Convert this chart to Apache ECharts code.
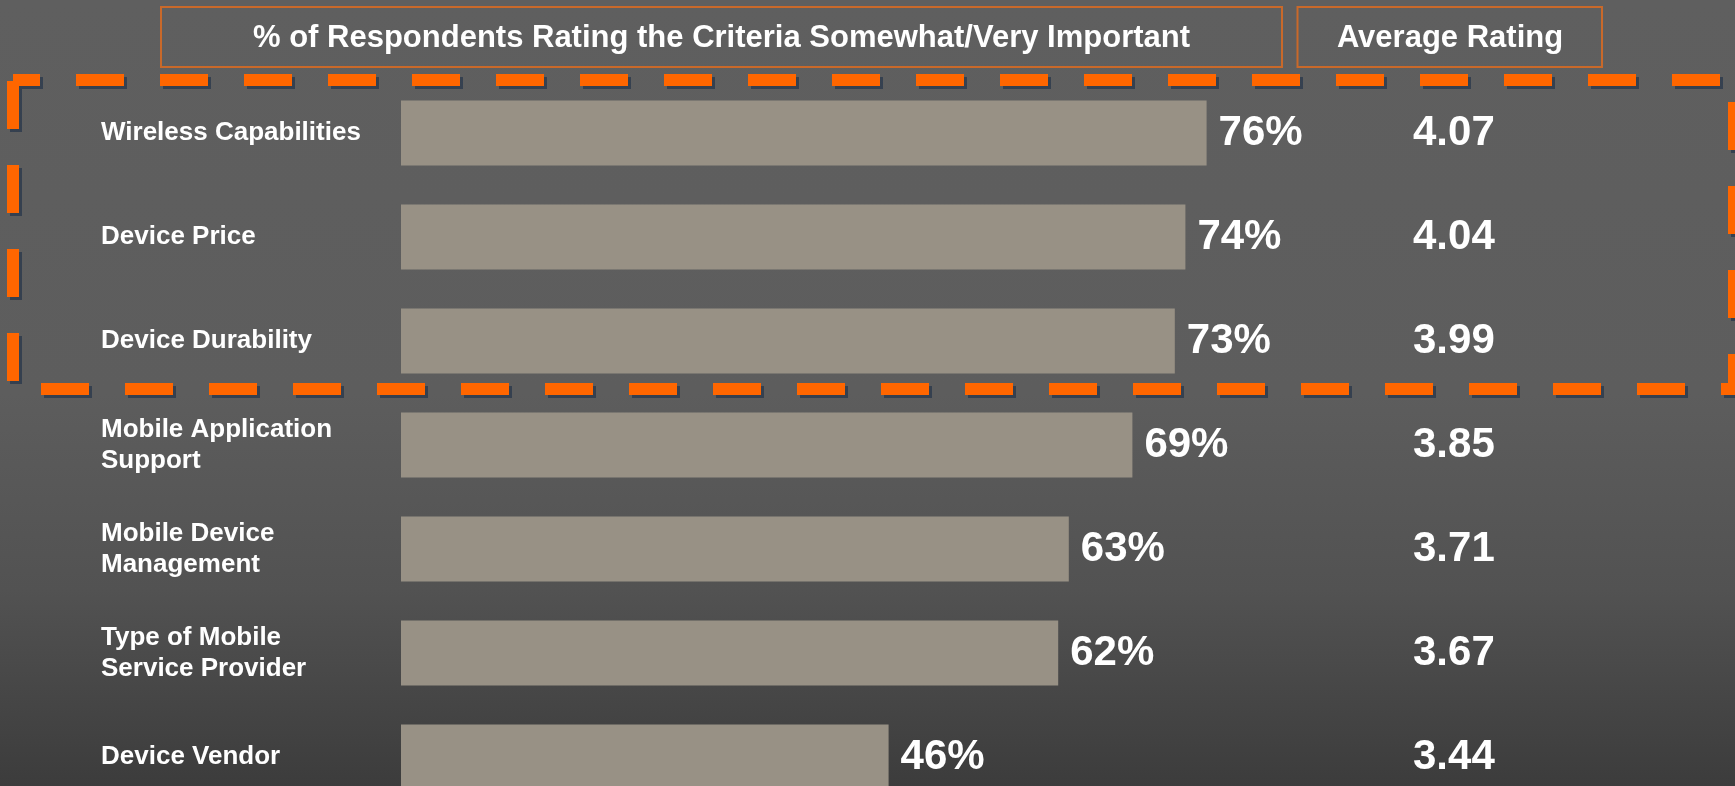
<!DOCTYPE html>
<html>
<head>
<meta charset="utf-8">
<title>Criteria rating</title>
<script src="https://cdn.jsdelivr.net/npm/echarts@6/dist/echarts.min.js"></script>
<style>
  html, body { margin: 0; padding: 0; }
  .chartHeight { width: 1735px; height: 786px; }
</style>
</head>
<body>
<div class="chartHeight" id="echarts"></div>
<script>
// data
var categories = [
  "Wireless Capabilities",
  "Device Price",
  "Device Durability",
  "Mobile Application\nSupport",
  "Mobile Device\nManagement",
  "Type of Mobile\nService Provider",
  "Device Vendor"
];
var pctValues = [76, 74, 73, 69, 63, 62, 46];
var avgRatings = [4.07, 4.04, 3.99, 3.85, 3.71, 3.67, 3.44];
var headerPct = "% of Respondents Rating the Criteria Somewhat/Very Important";
var headerAvg = "Average Rating";

var FONT = "'Liberation Sans', Arial, sans-serif";
var ORANGE = "#ff6600";

var myChart = echarts.init(document.getElementById("echarts"));

myChart.setOption({
  animation: false,
  backgroundColor: {
    type: "linear",
    x: 0, y: 0, x2: 0, y2: 1,
    colorStops: [
      { offset: 0, color: "#5f5f5f" },
      { offset: 0.5, color: "#5d5d5d" },
      { offset: 0.75, color: "#525252" },
      { offset: 1, color: "#3c3c3c" }
    ]
  },
  grid: {
    left: 401,
    top: 81,
    width: 1060,
    height: 728,
    containLabel: false,
    outerBoundsMode: "none"
  },
  xAxis: {
    type: "value",
    min: 0,
    max: 100,
    show: false
  },
  yAxis: [
    {
      type: "category",
      data: categories,
      inverse: true,
      axisLine: { show: false },
      axisTick: { show: false },
      splitLine: { show: false },
      axisLabel: {
        align: "left",
        margin: 300,
        color: "#ffffff",
        fontFamily: FONT,
        fontWeight: "bold",
        fontSize: 26,
        lineHeight: 31
      }
    },
    {
      type: "category",
      position: "right",
      offset: -56,
      data: avgRatings.map(function (v) { return v.toFixed(2); }),
      inverse: true,
      axisLine: { show: false },
      axisTick: { show: false },
      splitLine: { show: false },
      axisLabel: {
        margin: 8,
        color: "#ffffff",
        fontFamily: FONT,
        fontWeight: "bold",
        fontSize: 42
      }
    }
  ],
  series: [
    {
      type: "bar",
      data: pctValues,
      barWidth: 65,
      itemStyle: { color: "#989185" },
      label: {
        show: true,
        position: "right",
        distance: 12,
        formatter: "{c}%",
        color: "#ffffff",
        fontFamily: FONT,
        fontWeight: "bold",
        fontSize: 42
      }
    }
  ],
  graphic: [
    {
      type: "rect",
      shape: { x: 161, y: 7, width: 1121, height: 60 },
      style: { fill: null, stroke: "#c9692a", lineWidth: 2 }
    },
    {
      type: "text",
      x: 721.5,
      y: 38,
      style: {
        text: headerPct,
        fill: "#ffffff",
        font: "bold 31px " + FONT,
        textAlign: "center",
        textVerticalAlign: "middle"
      }
    },
    {
      type: "rect",
      shape: { x: 1297.5, y: 7, width: 304.5, height: 60 },
      style: { fill: null, stroke: "#c9692a", lineWidth: 2 }
    },
    {
      type: "text",
      x: 1450,
      y: 38,
      style: {
        text: headerAvg,
        fill: "#ffffff",
        font: "bold 31px " + FONT,
        textAlign: "center",
        textVerticalAlign: "middle"
      }
    },
    {
      // dashed highlight round the top three criteria
      type: "rect",
      shape: { x: 13, y: 80, width: 1721, height: 309 },
      style: {
        fill: null,
        stroke: ORANGE,
        lineWidth: 12,
        lineDash: [48, 36],
        lineDashOffset: 21,
        shadowColor: "rgba(40,55,75,0.75)",
        shadowOffsetX: 3,
        shadowOffsetY: 3,
        shadowBlur: 0
      }
    }
  ]
});

window.addEventListener("resize", function () {
  myChart.resize();
});
</script>
</body>
</html>
